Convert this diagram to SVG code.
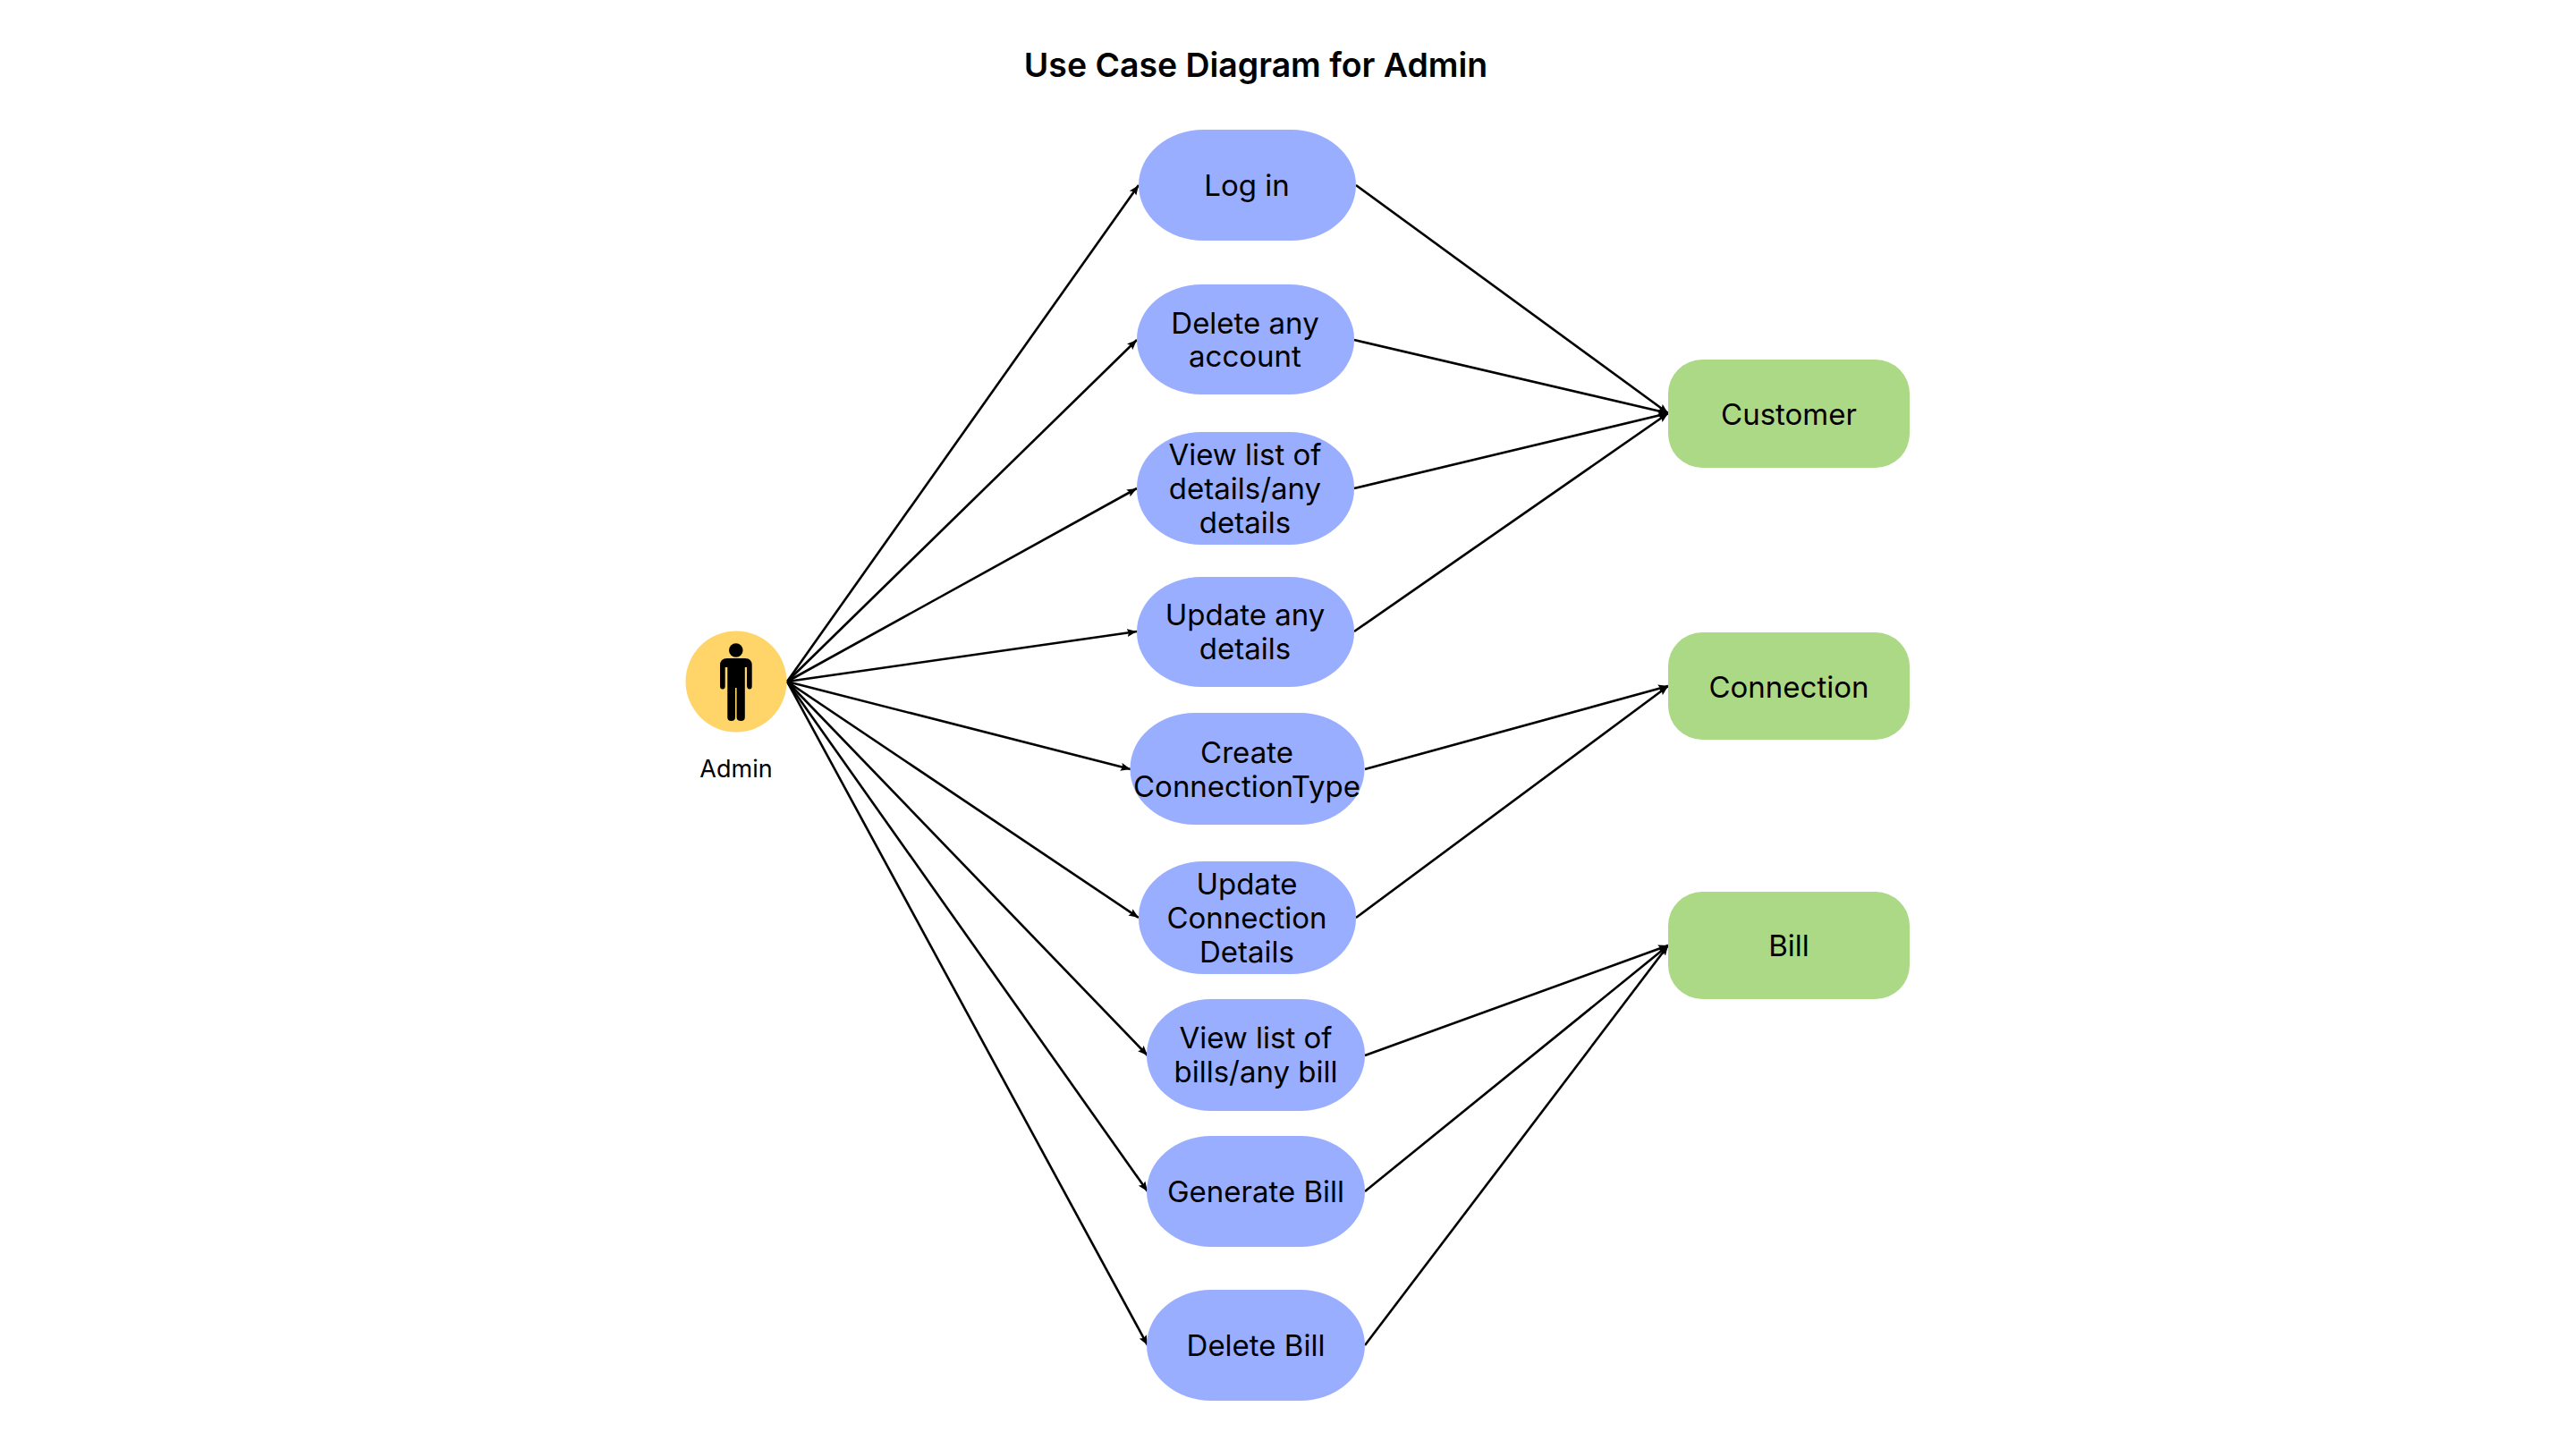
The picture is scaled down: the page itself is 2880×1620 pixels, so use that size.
<svg xmlns="http://www.w3.org/2000/svg" width="2880" height="1620" viewBox="0 0 2880 1620">
<style>
text{font-family:"Inter","Liberation Sans",sans-serif;fill:#000;text-anchor:middle}
.u{fill:#9aaeff}.e{fill:#acd986}
.l{font-size:33px}
.c line{stroke:#000;stroke-width:2.6;marker-end:url(#a)}
</style>
<defs><marker id="a" markerUnits="userSpaceOnUse" markerWidth="12" markerHeight="10" refX="11" refY="5" orient="auto"><path d="M0 0.5L11 5L0 9.5L2 5Z" fill="#000"/></marker></defs>
<rect width="2880" height="1620" fill="#fff"/>
<g id="title"><text x="1404" y="86" font-size="37.4" font-weight="600">Use Case Diagram for Admin</text></g>
<g id="connectors" class="c">
<line x1="880" y1="762" x2="1273" y2="207"/>
<line x1="880" y1="762" x2="1271" y2="380"/>
<line x1="880" y1="762" x2="1271" y2="546"/>
<line x1="880" y1="762" x2="1271" y2="706"/>
<line x1="880" y1="762" x2="1264" y2="860"/>
<line x1="880" y1="762" x2="1273" y2="1026"/>
<line x1="880" y1="762" x2="1283" y2="1180"/>
<line x1="880" y1="762" x2="1283" y2="1332"/>
<line x1="880" y1="762" x2="1283" y2="1504"/>
<line x1="1516" y1="207" x2="1865" y2="462"/>
<line x1="1514" y1="380" x2="1865" y2="462"/>
<line x1="1514" y1="546" x2="1865" y2="462"/>
<line x1="1514" y1="706" x2="1865" y2="462"/>
<line x1="1526" y1="860" x2="1865" y2="767"/>
<line x1="1516" y1="1026" x2="1865" y2="767"/>
<line x1="1526" y1="1180" x2="1865" y2="1057"/>
<line x1="1526" y1="1332" x2="1865" y2="1057"/>
<line x1="1526" y1="1504" x2="1865" y2="1057"/>
</g>
<g id="admin"><circle cx="823" cy="762" r="56.5" fill="#ffd469"/>
<circle cx="822.8" cy="727" r="7.8"/>
<path d="M813 736H833Q840.7 736 840.7 744V767Q840.7 770.5 838 770.5Q835.5 770.5 835 767V746H832.8V802Q832.8 806 828.5 806Q823.6 806 823.6 802V769H822V802Q822 806 817.6 806Q813.3 806 813.3 802V746H810.7V767Q810.7 770.5 808 770.5Q805 770.5 805 767V744Q805 736 813 736Z"/>
<text x="823" y="869" font-size="27">Admin</text></g>
<g id="login"><rect class="u" x="1273" y="145" width="243" height="124" rx="72" ry="62"/><text class="l" x="1394" y="219">Log in</text></g>
<g id="delete-account"><rect class="u" x="1271" y="318" width="243" height="123" rx="72" ry="61"/><text class="l" x="1392" y="373">Delete any</text><text class="l" x="1392" y="410">account</text></g>
<g id="view-details"><rect class="u" x="1271" y="483" width="243" height="126" rx="72" ry="62"/><text class="l" x="1392" y="520">View list of</text><text class="l" x="1392" y="558">details/any</text><text class="l" x="1392" y="596">details</text></g>
<g id="update-details"><rect class="u" x="1271" y="645" width="243" height="123" rx="72" ry="61"/><text class="l" x="1392" y="699">Update any</text><text class="l" x="1392" y="737">details</text></g>
<g id="create-connection"><rect class="u" x="1263.5" y="797" width="262" height="125" rx="72" ry="62"/><text class="l" x="1394" y="853">Create</text><text class="l" x="1394" y="891">ConnectionType</text></g>
<g id="update-connection"><rect class="u" x="1273" y="963" width="243" height="126" rx="72" ry="62"/><text class="l" x="1394" y="1000">Update</text><text class="l" x="1394" y="1038">Connection</text><text class="l" x="1394" y="1076">Details</text></g>
<g id="view-bills"><rect class="u" x="1282" y="1117" width="244" height="125" rx="72" ry="62"/><text class="l" x="1404" y="1172">View list of</text><text class="l" x="1404" y="1210">bills/any bill</text></g>
<g id="generate-bill"><rect class="u" x="1282" y="1270" width="244" height="124" rx="72" ry="62"/><text class="l" x="1404" y="1344">Generate Bill</text></g>
<g id="delete-bill"><rect class="u" x="1282" y="1442" width="244" height="124" rx="72" ry="62"/><text class="l" x="1404" y="1516">Delete Bill</text></g>
<g id="customer"><rect class="e" x="1865" y="402" width="270" height="121" rx="38"/><text class="l" x="2000" y="475">Customer</text></g>
<g id="connection"><rect class="e" x="1865" y="707" width="270" height="120" rx="38"/><text class="l" x="2000" y="780">Connection</text></g>
<g id="bill"><rect class="e" x="1865" y="997" width="270" height="120" rx="38"/><text class="l" x="2000" y="1069">Bill</text></g>
</svg>
